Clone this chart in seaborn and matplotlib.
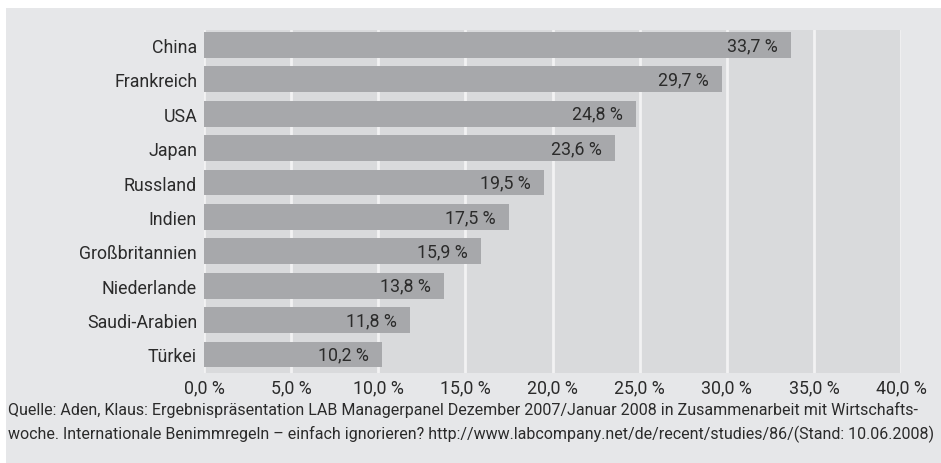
import matplotlib
matplotlib.use("Agg")
import matplotlib.pyplot as plt
from matplotlib.patches import Rectangle
from matplotlib.ticker import FuncFormatter, MultipleLocator
import seaborn as sns
import pandas as pd

# values
countries = ["China", "Frankreich", "USA", "Japan", "Russland", "Indien",
             "Großbritannien", "Niederlande", "Saudi-Arabien", "Türkei"]
shares = [33.7, 29.7, 24.8, 23.6, 19.5, 17.5, 15.9, 13.8, 11.8, 10.2]
footer_lines = [
    "Quelle: Aden, Klaus: Ergebnispräsentation LAB Managerpanel Dezember 2007/Januar 2008 in Zusammenarbeit mit Wirtschafts-",
    "woche. Internationale Benimmregeln – einfach ignorieren? http://www.labcompany.net/de/recent/studies/86/(Stand: 10.06.2008)",
]

sns.set_theme(style="white")
plt.rcParams["font.family"] = ["Roboto", "DejaVu Sans"]

text_col = "#2b2b2b"
fig_bg = "#e6e7e9"
plot_bg = "#d9dadc"
bar_col = "#a7a8ab"
lab_size = 12.8

fig = plt.figure(figsize=(9.41, 4.64), dpi=100, facecolor="white")
# grey panel with a thin white border at top and left
fig.patches.append(Rectangle((6 / 941, 0), 1, 1 - 9 / 464, transform=fig.transFigure,
                             facecolor=fig_bg, edgecolor="none", zorder=-5))

ax = fig.add_axes([204 / 941, 1 - 374 / 464, 697 / 941, 343 / 464])
ax.set_facecolor(plot_bg)

df = pd.DataFrame({"land": countries, "wert": shares})
sns.barplot(data=df, x="wert", y="land", orient="h", color=bar_col,
            saturation=1, width=0.75, linewidth=0, ax=ax)

for i, v in enumerate(shares):
    ax.annotate(f"{v:.1f} %".replace(".", ","), xy=(v, i), xytext=(-9.5, 0),
                textcoords="offset points", ha="right", va="center",
                fontsize=lab_size, color=text_col)

ax.set_xlim(0, 40)
ax.set_ylim(len(countries) - 1 + 0.538, -0.436)
ax.xaxis.set_major_locator(MultipleLocator(5))
ax.xaxis.set_major_formatter(FuncFormatter(lambda x, p: f"{x:.1f} %".replace(".", ",")))
ax.set_axisbelow(True)
ax.grid(axis="x", color="#f2f2f3", lw=2)
ax.grid(axis="y", visible=False)
for s in ax.spines.values():
    s.set_visible(False)
ax.tick_params(axis="both", length=0, labelsize=lab_size, labelcolor=text_col)
ax.tick_params(axis="x", pad=4)
ax.tick_params(axis="y", pad=5)
ax.set_xlabel("")
ax.set_ylabel("")

fig.text(8 / 941, 1 - 402 / 464, "\n".join(footer_lines), ha="left", va="top",
         fontsize=11.5, color=text_col, linespacing=1.55)

fig.savefig("out.png", dpi=100, facecolor=fig.get_facecolor())
